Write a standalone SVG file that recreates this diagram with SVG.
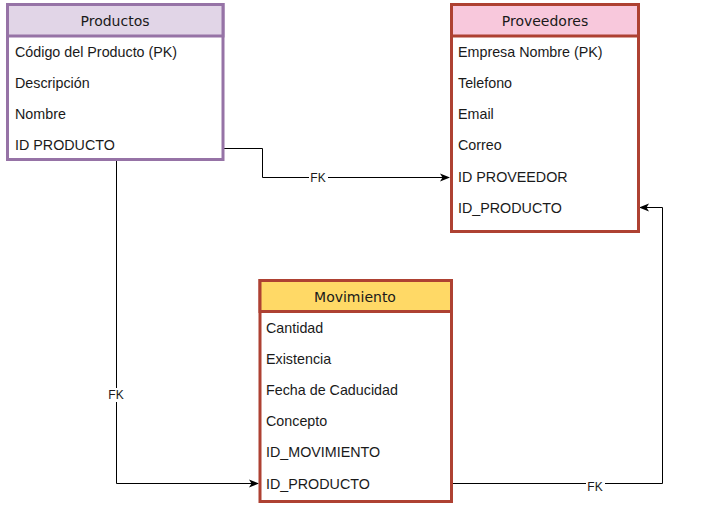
<svg xmlns="http://www.w3.org/2000/svg" width="717" height="529" viewBox="0 0 717 529">
<style>
.hdr{font-family:"DejaVu Sans",Verdana,sans-serif;font-size:14px;fill:#1a1a1a;text-anchor:middle;dominant-baseline:central}
.row{font-family:"Liberation Sans",Arial,sans-serif;font-size:14.3px;fill:#1a1a1a;dominant-baseline:central}
.lbl{font-family:"Liberation Sans",Arial,sans-serif;font-size:12px;fill:#1a1a1a;text-anchor:middle;dominant-baseline:central}
.edge{fill:none;stroke:#000;stroke-width:1}
.box{fill:#fff;stroke-width:3}
</style>
<defs>
<marker id="arr" viewBox="0 0 10 10" refX="9" refY="5" markerWidth="10" markerHeight="10" markerUnits="userSpaceOnUse" orient="auto">
<path d="M0,1 L10,5 L0,9 L2.5,5 Z" fill="#000"/>
</marker>
</defs>
<rect width="717" height="529" fill="#fff"/>
<g id="connectors">
<path class="edge" d="M224,148.5 H262.5 V177.5 H449" marker-end="url(#arr)"/>
<rect x="309" y="171" width="19" height="14" fill="#fff"/>
<text class="lbl" x="318" y="178">FK</text>
<path class="edge" d="M116.5,161 V483.5 H258" marker-end="url(#arr)"/>
<rect x="106" y="388" width="20" height="14" fill="#fff"/>
<text class="lbl" x="116" y="395">FK</text>
<path class="edge" d="M453,483.5 H662.5 V207.5 H640" marker-end="url(#arr)"/>
<rect x="586" y="481" width="19" height="13" fill="#fff"/>
<text class="lbl" x="595" y="487">FK</text>
</g>
<g id="productos">
<rect class="box" x="7.5" y="4.5" width="215.5" height="155" stroke="#9673a6"/>
<rect x="7.5" y="4.5" width="215.5" height="31.5" fill="#e1d5e7" stroke="#9673a6" stroke-width="3"/>
<text class="hdr" x="115" y="20.5">Productos</text>
<text class="row" x="15" y="52">Código del Producto (PK)</text>
<text class="row" x="15" y="83">Descripción</text>
<text class="row" x="15" y="114">Nombre</text>
<text class="row" x="15" y="145">ID PRODUCTO</text>
</g>
<g id="proveedores">
<rect class="box" x="451.5" y="4.5" width="187" height="227" stroke="#ae4132"/>
<rect x="451.5" y="4.5" width="187" height="31.5" fill="#f8c8dc" stroke="#ae4132" stroke-width="3"/>
<text class="hdr" x="545" y="20.5">Proveedores</text>
<text class="row" x="458" y="52">Empresa Nombre (PK)</text>
<text class="row" x="458" y="83">Telefono</text>
<text class="row" x="458" y="114">Email</text>
<text class="row" x="458" y="145">Correo</text>
<text class="row" x="458" y="177">ID PROVEEDOR</text>
<text class="row" x="458" y="208">ID_PRODUCTO</text>
</g>
<g id="movimiento">
<rect class="box" x="260" y="280.5" width="191.5" height="221" stroke="#ae4132"/>
<rect x="260" y="280.5" width="191.5" height="31" fill="#ffd966" stroke="#ae4132" stroke-width="3"/>
<text class="hdr" x="355" y="296.5">Movimiento</text>
<text class="row" x="266" y="328">Cantidad</text>
<text class="row" x="266" y="359">Existencia</text>
<text class="row" x="266" y="390">Fecha de Caducidad</text>
<text class="row" x="266" y="421">Concepto</text>
<text class="row" x="266" y="452">ID_MOVIMIENTO</text>
<text class="row" x="266" y="484">ID_PRODUCTO</text>
</g>
</svg>
